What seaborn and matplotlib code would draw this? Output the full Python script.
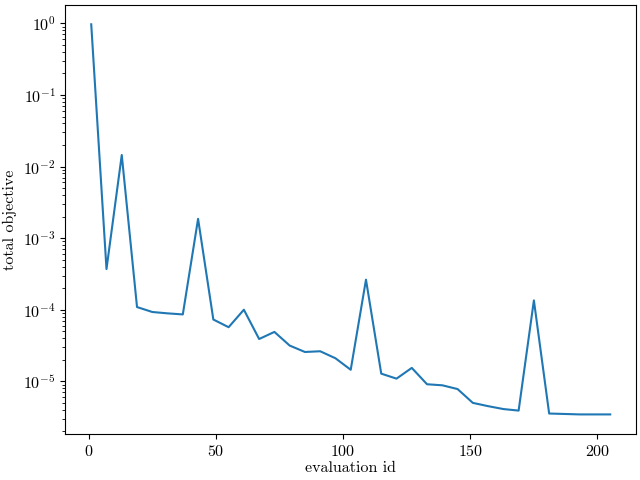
import matplotlib
matplotlib.use("Agg")
import matplotlib.pyplot as plt
import matplotlib.ticker as mticker
import seaborn as sns
import pandas as pd
import numpy as np

# LaTeX-like look without a TeX install
plt.rcParams['font.family'] = 'serif'
plt.rcParams['font.serif'] = ['cmr10']
plt.rcParams['font.size'] = 11.5
plt.rcParams['mathtext.fontset'] = 'cm'
plt.rcParams['axes.formatter.use_mathtext'] = True
plt.rcParams['axes.unicode_minus'] = False

evaluation_id = [1, 7, 13, 19, 25, 31, 37, 43, 49, 55, 61, 67, 73, 79, 85, 91, 97,
                 103, 109, 115, 121, 127, 133, 139, 145, 151, 157, 163, 169, 175,
                 181, 187, 193, 199, 205]
total_objective = [0.97, 3.7e-4, 1.45e-2, 1.09e-4, 9.3e-5, 8.9e-5, 8.6e-5, 1.86e-3,
                   7.3e-5, 5.7e-5, 1.0e-4, 3.9e-5, 4.9e-5, 3.16e-5, 2.57e-5, 2.63e-5,
                   2.1e-5, 1.45e-5, 2.63e-4, 1.28e-5, 1.09e-5, 1.54e-5, 9.1e-6,
                   8.8e-6, 7.8e-6, 5.0e-6, 4.5e-6, 4.1e-6, 3.9e-6, 1.35e-4,
                   3.55e-6, 3.5e-6, 3.45e-6, 3.45e-6, 3.45e-6]

df = pd.DataFrame({"evaluation id": evaluation_id, "total objective": total_objective})

fig, ax = plt.subplots(figsize=(6.4, 4.8), dpi=100)
sns.lineplot(x="evaluation id", y="total objective", data=df, ax=ax, color="#1f77b4")
ax.set_yscale("log")
ax.xaxis.set_major_locator(mticker.MultipleLocator(50))
ax.set_xlabel("evaluation id", labelpad=2)
ax.set_ylabel("total objective")
fig.subplots_adjust(left=0.102, right=0.994, top=0.99, bottom=0.096)
fig.savefig("out.png", dpi=100)
